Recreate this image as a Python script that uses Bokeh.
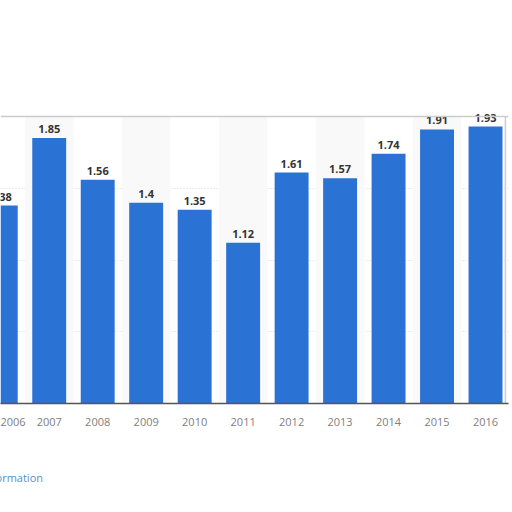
from bokeh.plotting import figure
from bokeh.models import ColumnDataSource, FixedTicker, Range1d, Span, Div
from bokeh.layouts import column
from bokeh.core.properties import value
from bokeh.embed import file_html
from bokeh.resources import INLINE

years = [2006, 2007, 2008, 2009, 2010, 2011, 2012, 2013, 2014, 2015, 2016]
values = [1.38, 1.85, 1.56, 1.4, 1.35, 1.12, 1.61, 1.57, 1.74, 1.91, 1.93]
labels = ["1.38", "1.85", "1.56", "1.4", "1.35", "1.12", "1.61", "1.57", "1.74", "1.91", "1.93"]
band_years = [2007, 2009, 2011, 2013, 2015]
grid_values = [0.5, 1.0, 1.5]
y_max = 2.0
footer_text = "Additional Information"

X0, X1 = 2005.995, 2016.474
src = ColumnDataSource(dict(x=years, top=values, label=labels))

p = figure(width=512, height=470, output_backend="svg", toolbar_location=None,
           x_range=Range1d(X0, X1), y_range=Range1d(0, 2.3),
           min_border_left=0, min_border_right=4, min_border_top=73, min_border_bottom=67,
           background_fill_color="white", border_fill_color="white")
p.outline_line_color = None

# faint alternating column bands
p.vbar(x=band_years, top=y_max, bottom=0, width=1.0, fill_color="#f9f9f9", line_color=None)

# chart box border (top and right)
p.add_layout(Span(location=y_max, dimension="width", line_color="#cccccc", line_width=1.5))
p.segment(x0=[2016.41], y0=[0], x1=[2016.41], y1=[y_max], line_color="#cccccc", line_width=1.5)

p.vbar(x="x", top="top", width=0.70, source=src, fill_color="#2a73d5", line_color=None)
p.text(x="x", y="top", text="label", source=src, text_align="center", text_baseline="bottom",
       y_offset=-5, text_font=value("Open Sans"), text_font_size="11px", text_font_style="bold",
       text_color="#333333")

p.xgrid.visible = False
p.ygrid.ticker = FixedTicker(ticks=grid_values)
p.ygrid.grid_line_color = "#d9d9d9"
p.ygrid.grid_line_dash = "1 2"
p.yaxis.visible = False

p.xaxis.ticker = FixedTicker(ticks=years)
p.xaxis.major_tick_line_color = None
p.xaxis.minor_tick_line_color = None
p.xaxis.axis_line_color = "#555555"
p.xaxis.axis_line_width = 1.5
p.xaxis.major_label_text_font = "Open Sans"
p.xaxis.major_label_text_font_size = "11px"
p.xaxis.major_label_text_color = "#808080"
p.xaxis.major_label_standoff = 8

footer = Div(text=f'<div style="margin-left:-73px;white-space:nowrap;font-family:\'Open Sans\';'
                  f'font-size:11px;line-height:15px;color:#5a8fc0;">{footer_text}</div>',
             width=512, height=30, margin=(0, 0, 0, 0))

layout = column(p, footer, spacing=0)
open("out.html", "w").write(file_html(layout, INLINE))
